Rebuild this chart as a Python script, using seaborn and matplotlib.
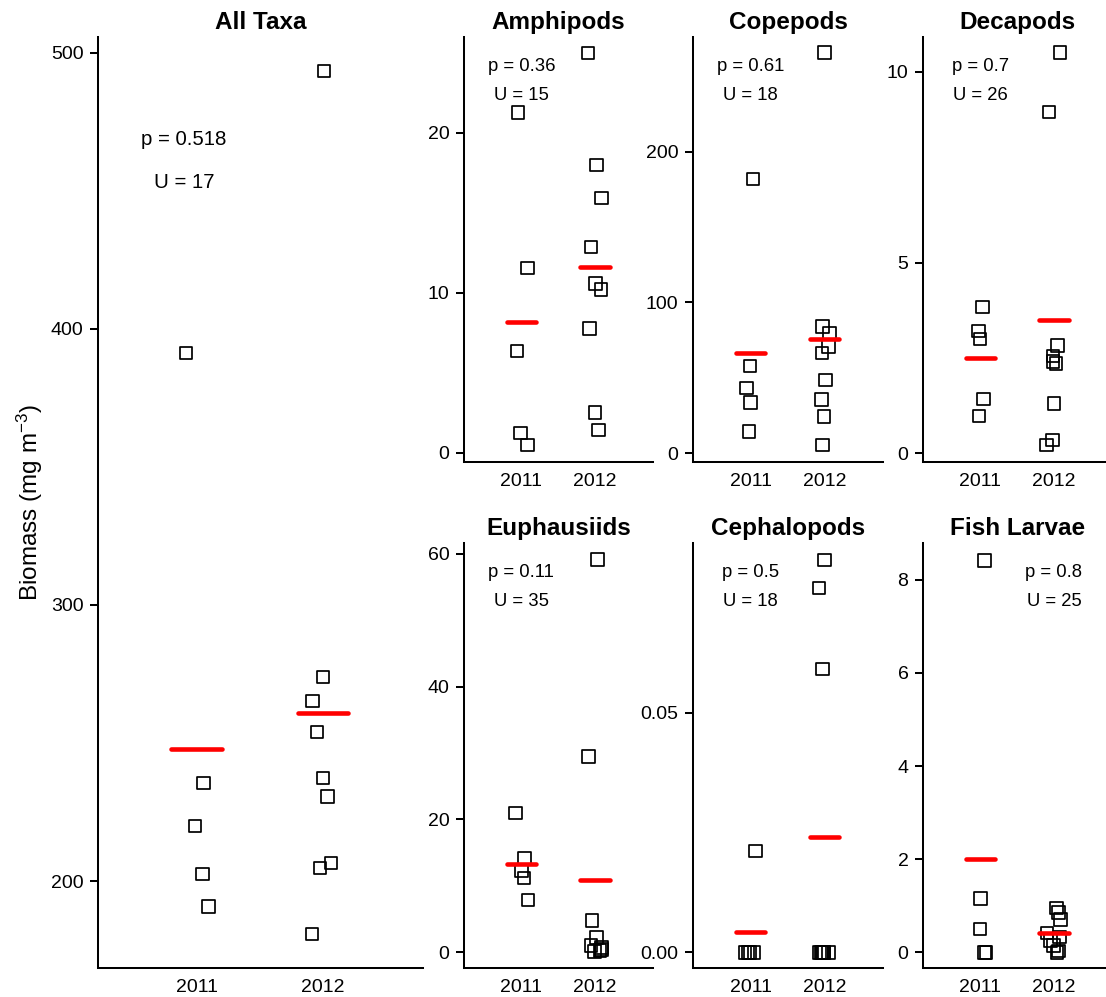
import numpy as np
import pandas as pd
import matplotlib
matplotlib.use("Agg")
import matplotlib.pyplot as plt
import matplotlib.transforms as mtransforms
from matplotlib.ticker import FormatStrFormatter
import seaborn as sns

# ---- data: zooplankton biomass (mg m^-3) per station, by year ----
years = ["2011", "2012"]

all_taxa_2011 = [391.2, 235.5, 220.0, 202.6, 190.7]
all_taxa_2012 = [493.4, 273.9, 265.2, 253.9, 237.4, 230.7, 206.6, 204.8, 180.8]

amphipods_2011 = [21.27, 11.54, 6.36, 1.25, 0.48]
amphipods_2012 = [25.0, 17.98, 15.94, 12.88, 10.59, 10.21, 7.77, 2.53, 1.42]

copepods_2011 = [181.9, 58.0, 43.2, 33.6, 14.3]
copepods_2012 = [265.7, 84.1, 79.7, 70.8, 66.4, 48.6, 35.8, 24.3, 5.5]

decapods_2011 = [3.83, 3.21, 2.99, 1.42, 0.98]
decapods_2012 = [10.5, 8.94, 2.82, 2.55, 2.40, 2.36, 1.31, 0.35, 0.22]

euphausiids_2011 = [21.0, 14.2, 12.3, 11.2, 7.9]
euphausiids_2012 = [59.1, 29.5, 4.8, 2.2, 1.0, 0.7, 0.4, 0.3, 0.1]

cephalopods_2011 = [0.0211, 0.0, 0.0, 0.0, 0.0]
cephalopods_2012 = [0.0819, 0.0760, 0.0591, 0.0, 0.0, 0.0, 0.0, 0.0, 0.0]

fish_larvae_2011 = [8.41, 1.16, 0.50, 0.0, 0.0]
fish_larvae_2012 = [0.95, 0.85, 0.70, 0.42, 0.33, 0.25, 0.15, 0.03, 0.0]

taxa = ["All Taxa", "Amphipods", "Copepods", "Decapods",
        "Euphausiids", "Cephalopods", "Fish Larvae"]
series_2011 = [all_taxa_2011, amphipods_2011, copepods_2011, decapods_2011,
               euphausiids_2011, cephalopods_2011, fish_larvae_2011]
series_2012 = [all_taxa_2012, amphipods_2012, copepods_2012, decapods_2012,
               euphausiids_2012, cephalopods_2012, fish_larvae_2012]

# Mann-Whitney results
p_values = ["0.518", "0.36", "0.61", "0.7", "0.11", "0.5", "0.8"]
u_values = ["17", "15", "18", "26", "35", "18", "25"]

# y-axis ticks per panel
y_ticks = [
    [200, 300, 400, 500],
    [0, 10, 20],
    [0, 100, 200],
    [0, 5, 10],
    [0, 20, 40, 60],
    [0.00, 0.05],
    [0, 2, 4, 6, 8],
]

# ---- layout ----
sns.set_theme(style="ticks")
plt.rcParams["font.family"] = ["Liberation Sans", "DejaVu Sans"]
plt.rcParams["mathtext.fontset"] = "custom"
plt.rcParams["mathtext.rm"] = "Liberation Sans"
plt.rcParams["mathtext.it"] = "Liberation Sans:italic"
plt.rcParams["mathtext.bf"] = "Liberation Sans:bold"

W, H = 1106, 997
fig = plt.figure(figsize=(W / 100, H / 100), dpi=100)


def rect(left, top, right, bottom):
    return [left / W, 1 - bottom / H, (right - left) / W, (bottom - top) / H]


panel_rects = [
    rect(98, 37, 423, 968),
    rect(464, 37, 653, 461.7),
    rect(693, 37, 883, 461.7),
    rect(923, 37, 1112, 461.7),
    rect(464, 543, 653, 968),
    rect(693, 543, 883, 968),
    rect(923, 543, 1112, 968),
]
y_limits = [
    (168.5, 505.7),
    (-0.56, 26.0),
    (-5.6, 276.1),
    (-0.22, 10.91),
    (-2.36, 61.6),
    (-0.00328, 0.0854),
    (-0.337, 8.79),
]
tick_formats = ["%d", "%d", "%d", "%d", "%d", "%.2f", "%d"]
# annotation placement: x in data units, y in axes fraction (baselines)
annot_x = [-0.1, 0, 0, 0, 0, 0, 1]
annot_y = [(0.884, 0.8375)] + [(0.921, 0.851)] * 6
annot_size = [14.7] + [13.3] * 6

np.random.seed(7)

for k, name in enumerate(taxa):
    ax = fig.add_axes(panel_rects[k])
    df = pd.DataFrame({
        "year": [years[0]] * len(series_2011[k]) + [years[1]] * len(series_2012[k]),
        "biomass": list(series_2011[k]) + list(series_2012[k]),
    })

    sns.stripplot(data=df, x="year", y="biomass", order=years, ax=ax,
                  jitter=0.1, marker="s", size=9.0, color="black",
                  facecolor="none", edgecolor="black", linewidth=1.25,
                  zorder=3)
    for coll in ax.collections:
        coll.set_facecolor("none")
        coll.set_edgecolor("black")

    # group means as short red bars
    means = df.groupby("year")["biomass"].mean().reindex(years)
    for i, m in enumerate(means):
        ax.hlines(m, i - 0.2, i + 0.2, color="#ff0000", lw=3.3,
                  capstyle="round", zorder=4)

    ax.set_xlim(-0.78, 1.79)
    ax.set_ylim(*y_limits[k])
    ax.set_yticks(y_ticks[k])
    ax.yaxis.set_major_formatter(FormatStrFormatter(tick_formats[k]))
    ax.set_xlabel("")
    ax.set_ylabel("")
    ax.set_title(name, fontsize=17.5, fontweight="bold", pad=6, color="black")

    for side in ("top", "right"):
        ax.spines[side].set_visible(False)
    for side in ("left", "bottom"):
        ax.spines[side].set_linewidth(1.45)
        ax.spines[side].set_color("black")
    ax.tick_params(axis="y", length=6, width=1.45, pad=4.5, labelsize=14,
                   color="black", labelcolor="black", direction="out")
    ax.tick_params(axis="x", length=0, pad=8, labelsize=14, labelcolor="black")
    ax.set_facecolor("white")

    trans = mtransforms.blended_transform_factory(ax.transData, ax.transAxes)
    ax.text(annot_x[k], annot_y[k][0], f"p = {p_values[k]}", transform=trans,
            ha="center", va="baseline", fontsize=annot_size[k], color="black")
    ax.text(annot_x[k], annot_y[k][1], f"U = {u_values[k]}", transform=trans,
            ha="center", va="baseline", fontsize=annot_size[k], color="black")

fig.text(30 / W, 1 - 502.5 / H, "Biomass (mg m$^{-3}$)", rotation=90,
         ha="center", va="center", fontsize=17.5, color="black")

fig.savefig("out.png", dpi=100, facecolor="white")
